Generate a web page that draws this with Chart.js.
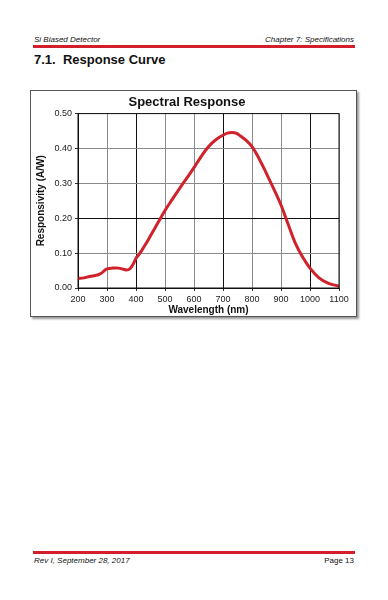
<!DOCTYPE html>
<html lang="en">
<head>
    <meta charset="UTF-8">
    <title>Spectral Response</title>
    <script src="https://cdn.jsdelivr.net/npm/chart.js"></script>
    <style>
        body {
            margin: 0;
            width: 388px;
            height: 600px;
            background: #fff;
            font-family: "Liberation Sans", Arial, sans-serif;
            position: relative;
            overflow: hidden;
        }
        .hdr {
            position: absolute;
            font-size: 8px;
            font-style: italic;
            color: #111;
        }
        .rule {
            position: absolute;
            left: 33px;
            width: 322px;
            height: 3px;
            background: #d21f2b;
        }
        h1 {
            position: absolute;
            left: 34px;
            top: 52px;
            margin: 0;
            font-size: 13px;
            font-weight: bold;
            color: #111;
        }
        .frame {
            position: absolute;
            left: 30px;
            top: 90px;
            width: 325px;
            height: 225px;
            border: 1px solid #555;
            box-shadow: 2px 2px 2px #999;
            background: #fff;
        }
    </style>
</head>
<body>
    <div class="hdr" style="left:34px; top:35px;">Si Biased Detector</div>
    <div class="hdr" style="right:34px; top:35px;">Chapter 7: Specifications</div>
    <div class="rule" style="top:45px;"></div>
    <h1>7.1.&nbsp; Response Curve</h1>

    <div class="frame"><canvas id="chart" width="325" height="225"></canvas></div>

    <div class="rule" style="top:551px;"></div>
    <div class="hdr" style="left:34px; top:556px;">Rev I, September 28, 2017</div>
    <div class="hdr" style="right:34px; top:556px; font-style:normal;">Page 13</div>

    <script>
        // responsivity curve
        const wavelengths = [200, 220, 240, 260, 270, 280, 290, 300, 320, 340, 360, 370, 380, 390, 400,
            410, 420, 435, 450, 475, 500, 525, 550, 575, 600, 620, 640, 660, 680, 700, 715, 730, 745, 760,
            780, 800, 825, 850, 875, 900, 925, 950, 975, 1000, 1030, 1060, 1100];
        const responsivity = [0.027, 0.029, 0.033, 0.036, 0.038, 0.042, 0.049, 0.055, 0.057, 0.057, 0.053, 0.052, 0.056, 0.068, 0.085,
            0.096, 0.108, 0.128, 0.150, 0.186, 0.222, 0.254, 0.285, 0.315, 0.345, 0.371, 0.395, 0.414, 0.428, 0.438, 0.444, 0.446, 0.444, 0.436,
            0.423, 0.405, 0.370, 0.328, 0.284, 0.238, 0.182, 0.127, 0.088, 0.057, 0.030, 0.015, 0.005];
        const xTicks = [200, 300, 400, 500, 600, 700, 800, 900, 1000, 1100];
        const yTicks = [0, 0.1, 0.2, 0.3, 0.4, 0.5];
        const darkX = [400, 700, 1000];
        const darkY = [0.2];

        const font = "'Liberation Sans', Arial, sans-serif";

        new Chart(document.getElementById('chart'), {
            type: 'line',
            data: {
                datasets: [{
                    data: wavelengths.map((w, i) => ({ x: w, y: responsivity[i] })),
                    borderColor: '#d0222b',
                    borderWidth: 3,
                    pointRadius: 0,
                    tension: 0.4,
                    fill: false
                }]
            },
            options: {
                responsive: false,
                animation: false,
                layout: { padding: { top: 4, right: 17, bottom: 0, left: 4 } },
                plugins: {
                    legend: { display: false },
                    tooltip: { enabled: false },
                    title: {
                        display: true,
                        text: 'Spectral Response',
                        color: '#111',
                        font: { family: font, size: 13, weight: 'bold' },
                        padding: { top: 0, bottom: 3 }
                    }
                },
                scales: {
                    x: {
                        type: 'linear',
                        min: 200,
                        max: 1100,
                        afterBuildTicks: s => { s.ticks = xTicks.map(v => ({ value: v })); },
                        afterFit: s => { s.height = 28; },
                        ticks: {
                            color: '#222',
                            font: { family: font, size: 9 },
                            maxRotation: 0,
                            padding: 3,
                            callback: v => String(v)
                        },
                        grid: {
                            color: c => darkX.includes(c.tick.value) ? '#111' : '#8a8a8a',
                            lineWidth: 1,
                            tickLength: 3,
                            tickColor: '#333'
                        },
                        border: { color: '#111', width: 1 },
                        title: {
                            display: true,
                            text: 'Wavelength (nm)',
                            color: '#111',
                            font: { family: font, size: 10, weight: 'bold' },
                            padding: { top: 0, bottom: 0 }
                        }
                    },
                    y: {
                        min: 0,
                        max: 0.5,
                        afterBuildTicks: s => { s.ticks = yTicks.map(v => ({ value: v })); },
                        afterFit: s => { s.width = 43; },
                        ticks: {
                            color: '#222',
                            font: { family: font, size: 9 },
                            callback: v => v.toFixed(2),
                            padding: 3
                        },
                        grid: {
                            color: c => darkY.includes(c.tick.value) ? '#111' : '#8a8a8a',
                            lineWidth: 1,
                            tickLength: 3,
                            tickColor: '#333'
                        },
                        border: { color: '#111', width: 1 },
                        title: {
                            display: true,
                            text: 'Responsivity (A/W)',
                            color: '#111',
                            font: { family: font, size: 10, weight: 'bold' },
                            padding: { top: 0, bottom: 1 }
                        }
                    }
                }
            },
            plugins: [{
                id: 'plotBorder',
                afterDraw(chart) {
                    const a = chart.chartArea, ctx = chart.ctx;
                    ctx.save();
                    ctx.strokeStyle = '#111';
                    ctx.lineWidth = 1;
                    ctx.strokeRect(a.left, a.top, a.right - a.left, a.bottom - a.top);
                    ctx.restore();
                }
            }]
        });
    </script>
</body>
</html>
